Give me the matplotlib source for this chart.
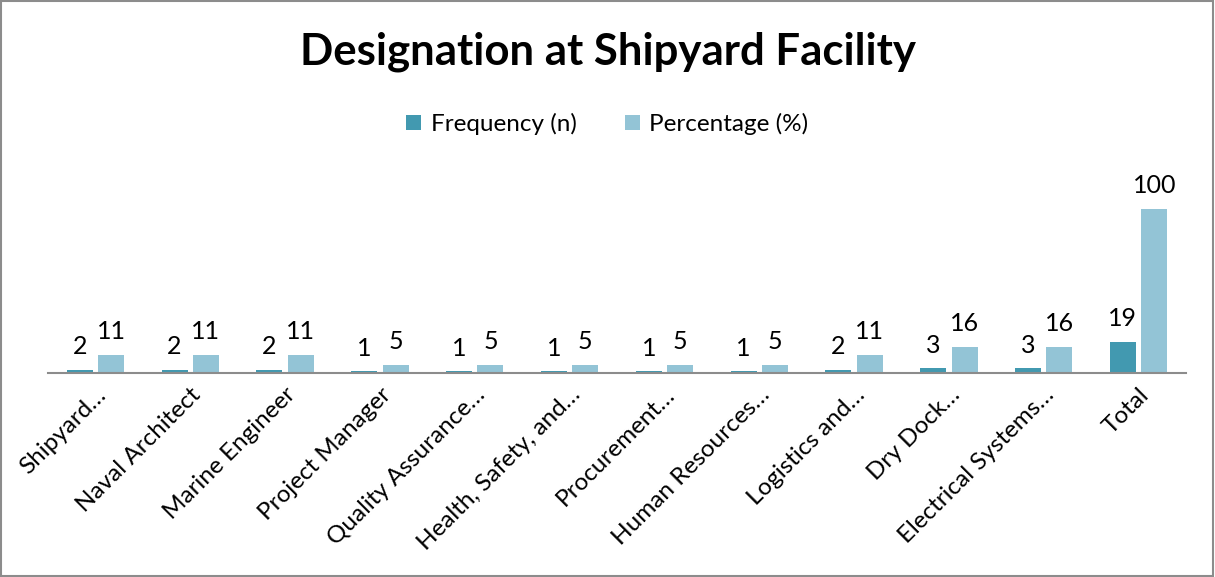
import matplotlib
matplotlib.use("Agg")
import matplotlib.pyplot as plt
import numpy as np
from matplotlib.patches import Rectangle

categories = ["Shipyard…", "Naval Architect", "Marine Engineer", "Project Manager",
              "Quality Assurance…", "Health, Safety, and…", "Procurement…",
              "Human Resources…", "Logistics and…", "Dry Dock…",
              "Electrical Systems…", "Total"]
frequency = [2, 2, 2, 1, 1, 1, 1, 1, 2, 3, 3, 19]
percentage = [11, 11, 11, 5, 5, 5, 5, 5, 11, 16, 16, 100]

plt.rcParams['font.family'] = ['Lato', 'DejaVu Sans']

fig = plt.figure(figsize=(12.15, 5.77), dpi=100)
ax = fig.add_axes([48/1215, 1-373/577, (1186-48)/1215, 197/577])

x = np.arange(len(categories))
w = 0.275
c1 = "#4299B0"
c2 = "#93C4D6"
b1 = ax.bar(x - 0.165, frequency, w, color=c1, label="Frequency (n)")
b2 = ax.bar(x + 0.165, percentage, w, color=c2, label="Percentage (%)")
for rect, v in zip(b1, frequency):
    ax.text(rect.get_x() + rect.get_width()/2, v + 7, str(v), ha='center', va='bottom', fontsize=18)
for rect, v in zip(b2, percentage):
    ax.text(rect.get_x() + rect.get_width()/2, v + 7, str(v), ha='center', va='bottom', fontsize=18)

ax.set_xlim(-0.5, len(categories) - 0.5)
ax.set_ylim(0, 120)
ax.set_yticks([])
for s in ['top', 'right', 'left']:
    ax.spines[s].set_visible(False)
ax.spines['bottom'].set_color('#8c8c8c')
ax.spines['bottom'].set_linewidth(1.5)
ax.set_xticks(x)
ax.set_xticklabels(categories, rotation=45, ha='right', rotation_mode='anchor', fontsize=17.5)
ax.tick_params(axis='x', length=0, pad=8)

fig.text(0.5, 1-52/577, "Designation at Shipyard Facility", ha='center', va='center',
         fontsize=31.5, fontweight='bold')
fig.legend(handles=[b1, b2], loc='center', bbox_to_anchor=(0.5, 1-124/577), ncol=2,
           frameon=False, fontsize=17.5, handlelength=0.6, handleheight=0.6,
           columnspacing=2.0, handletextpad=0.4)

fig.patches.append(Rectangle((0.001, 0.002), 0.997, 0.996, transform=fig.transFigure,
                             fill=False, edgecolor='#8c8c8c', linewidth=1.5))
fig.savefig("out.png", dpi=100)
